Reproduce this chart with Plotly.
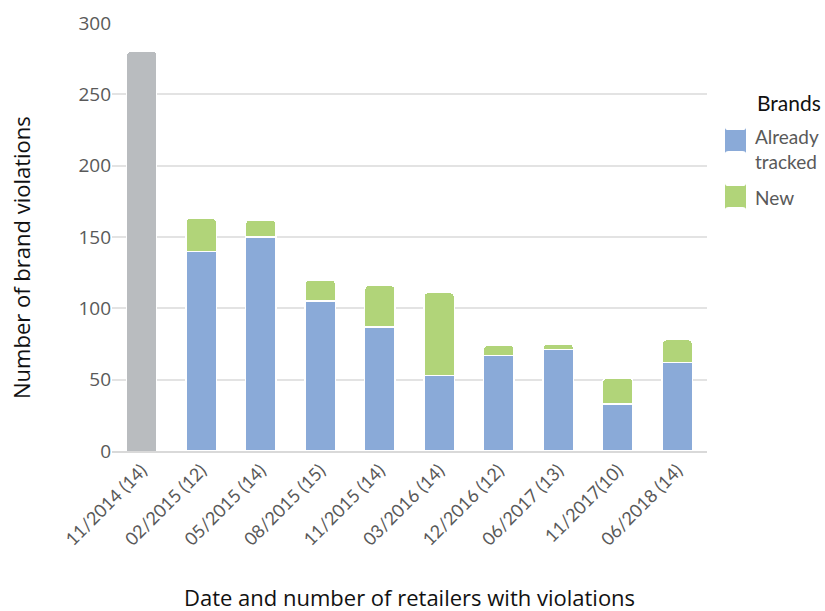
import plotly.graph_objects as go

categories = ["11/2014 (14)", "02/2015 (12)", "05/2015 (14)", "08/2015 (15)",
              "11/2015 (14)", "03/2016 (14)", "12/2016 (12)", "06/2017 (13)",
              "11/2017(10)", "06/2018 (14)"]
baseline_total = [280, None, None, None, None, None, None, None, None, None]
already_tracked = [None, 140, 150, 105, 87, 53, 67, 71, 33, 62]
new_brands = [None, 23, 12, 15, 29, 58, 7, 4, 18, 16]
y_ticks = [0, 50, 100, 150, 200, 250, 300]

GRAY = "#b9bcbf"
BLUE = "#8aaad8"
GREEN = "#b1d479"

W, H = 825, 611
ML, MR, MT, MB = 112, 118, 23, 160
PW, PH = W - ML - MR, H - MT - MB


def px_x(x):
    return (x - ML) / PW


def px_y(y):
    return (H - MB - y) / PH


fig = go.Figure()
fig.add_trace(go.Bar(x=categories, y=baseline_total, showlegend=False,
                     marker=dict(color=GRAY, cornerradius=4, line=dict(color="white", width=1))))
fig.add_trace(go.Bar(x=categories, y=already_tracked, name="Already tracked", showlegend=False,
                     marker=dict(color=BLUE, cornerradius=4, line=dict(color="white", width=1.5))))
fig.add_trace(go.Bar(x=categories, y=new_brands, name="New", showlegend=False,
                     marker=dict(color=GREEN, cornerradius=4, line=dict(color="white", width=1.5))))

# Legend drawn as rounded swatches plus labels
shapes = []
annotations = []


def rounded_rect(x0, y0, x1, y1, r):
    return (f"M {x0 + r},{y0} L {x1 - r},{y0} Q {x1},{y0} {x1},{y0 + r} "
            f"L {x1},{y1 - r} Q {x1},{y1} {x1 - r},{y1} L {x0 + r},{y1} "
            f"Q {x0},{y1} {x0},{y1 - r} L {x0},{y0 + r} Q {x0},{y0} {x0 + r},{y0} Z")


legend_items = [("Already<br>tracked", BLUE, 130, 149), ("New", GREEN, 186, 197)]
for label, color, sw_top, text_y in legend_items:
    shapes.append(dict(type="path", xref="paper", yref="paper", line=dict(width=0),
                       fillcolor=color,
                       path=rounded_rect(px_x(725), px_y(sw_top), px_x(746), px_y(sw_top + 21), 0.006)))
    annotations.append(dict(text=label, xref="paper", yref="paper", x=px_x(753), y=px_y(text_y),
                            xanchor="left", yanchor="middle", align="left", showarrow=False,
                            font=dict(size=19, family="Lato", color="#595959")))

annotations.append(dict(text="Brands", xref="paper", yref="paper", x=px_x(823), y=px_y(102),
                        xanchor="right", yanchor="middle", showarrow=False,
                        font=dict(size=21, family="Lato", color="#111111")))
annotations.append(dict(text="Date and number of retailers with violations", xref="paper", yref="paper",
                        x=0.5, y=px_y(597), xanchor="center", yanchor="middle", showarrow=False,
                        font=dict(size=22, family="Open Sans", color="#111111")))
annotations.append(dict(text="Number of brand violations", xref="paper", yref="paper",
                        x=px_x(21), y=px_y(258), xanchor="center", yanchor="middle", showarrow=False,
                        textangle=-90, font=dict(size=22, family="Open Sans", color="#111111")))

fig.update_layout(
    width=W, height=H,
    barmode="stack", bargap=0.49,
    paper_bgcolor="white", plot_bgcolor="white",
    margin=dict(l=ML, r=MR, t=MT, b=MB, autoexpand=False),
    font=dict(family="Open Sans", color="#595959", size=16),
    showlegend=False,
    shapes=shapes,
    annotations=annotations,
    xaxis=dict(
        tickangle=-45, tickfont=dict(size=18, family="Lato", color="#595959"),
        showline=True, linecolor="#d9d9d9", linewidth=2, ticks="",
    ),
    yaxis=dict(
        range=[0, 300], tickvals=y_ticks, showgrid=True, gridcolor="#e3e3e3", gridwidth=1.5,
        zeroline=False, ticks="", tickfont=dict(size=19, color="#595959"),
    ),
)

fig.write_html("out.html")
